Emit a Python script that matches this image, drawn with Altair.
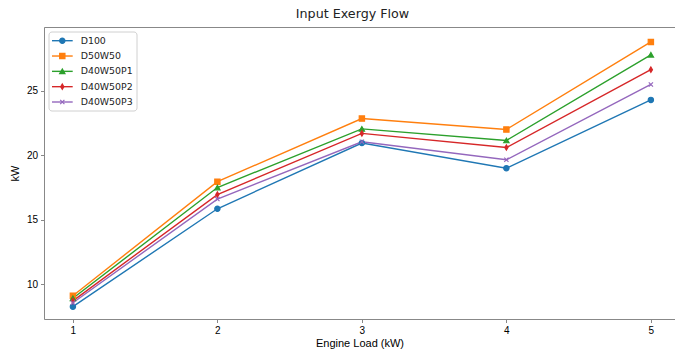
import altair as alt
import pandas as pd

engine_load = [1, 2, 3, 4, 5]
series_names = ["D100", "D50W50", "D40W50P1", "D40W50P2", "D40W50P3"]
d100 = [8.25, 15.85, 20.95, 19.0, 24.3]
d50w50 = [9.1, 17.95, 22.85, 22.0, 28.8]
d40w50p1 = [8.9, 17.5, 22.05, 21.15, 27.8]
d40w50p2 = [8.7, 16.95, 21.7, 20.6, 26.65]
d40w50p3 = [8.55, 16.6, 21.05, 19.65, 25.5]
y_ticks = [10, 15, 20, 25]

colors = ["#1f77b4", "#ff7f0e", "#2ca02c", "#d62728", "#9467bd"]
thin_diamond = "M0,-1L0.6,0L0,1L-0.6,0Z"
x_marker = "M-0.8,-0.8L0.8,0.8M-0.8,0.8L0.8,-0.8"
point_shapes = ["circle", "square", "triangle-up", thin_diamond, x_marker]

values = [d100, d50w50, d40w50p1, d40w50p2, d40w50p3]
rows = []
for name, vals in zip(series_names, values):
    for xv, yv in zip(engine_load, vals):
        rows.append({"load": xv, "kW": yv, "series": name})
df = pd.DataFrame(rows)
legend_df = pd.DataFrame({"series": series_names})

FONT = "DejaVu Sans"
TXT = "#222222"

color_scale = alt.Scale(domain=series_names, range=colors)
shape_scale = alt.Scale(domain=series_names, range=point_shapes)
x_scale = alt.Scale(domain=[0.8, 5.167], nice=False, zero=False)
y_scale = alt.Scale(domain=[7.29, 29.96], nice=False, zero=False)

base = alt.Chart(df)

lines = base.mark_line(strokeWidth=1.4).encode(
    x=alt.X("load:Q", scale=x_scale,
            axis=alt.Axis(title="Engine Load (kW)", values=engine_load, format="d",
                          grid=False, orient="bottom", tickSize=3.5, labelPadding=3,
                          titlePadding=2, titleFontWeight="normal")),
    y=alt.Y("kW:Q", scale=y_scale,
            axis=alt.Axis(title="kW", values=y_ticks, grid=False, tickSize=3.5,
                          labelPadding=3, titlePadding=6, titleFontWeight="normal")),
    color=alt.Color("series:N", scale=color_scale, legend=None),
    detail="series:N",
)

points = base.mark_point(filled=False, opacity=1, size=28, strokeWidth=1.2).encode(
    x=alt.X("load:Q", scale=x_scale,
            axis=alt.Axis(orient="top", labels=False, ticks=False, title=None,
                          grid=False, domain=True)),
    y=alt.Y("kW:Q", scale=y_scale),
    fill=alt.Fill("series:N", scale=color_scale, legend=None),
    stroke=alt.Stroke("series:N", scale=color_scale, legend=None),
    shape=alt.Shape("series:N", scale=shape_scale, legend=None),
)

main = alt.layer(lines, points).resolve_axis(x="independent")

# legend drawn inside the plot's upper left corner
leg_base = alt.Chart(legend_df)
row_y = alt.Y("series:N", sort=series_names, axis=None,
              scale=alt.Scale(type="point", domain=series_names,
                              range=[13.7, 75], padding=0))

leg_frame = leg_base.transform_filter(alt.datum.series == series_names[0]).mark_rect(
    fill="white", stroke="#cccccc", strokeWidth=1, cornerRadius=3, opacity=0.9
).encode(x=alt.value(5), x2=alt.value(93), y=alt.value(5), y2=alt.value(84))

leg_lines = leg_base.mark_rule(strokeWidth=1.4).encode(
    x=alt.value(8), x2=alt.value(28.7), y=row_y,
    color=alt.Color("series:N", scale=color_scale, legend=None),
)

leg_marks = leg_base.mark_point(filled=False, opacity=1, size=28, strokeWidth=1.2).encode(
    x=alt.value(18.3), y=row_y,
    fill=alt.Fill("series:N", scale=color_scale, legend=None),
    stroke=alt.Stroke("series:N", scale=color_scale, legend=None),
    shape=alt.Shape("series:N", scale=shape_scale, legend=None),
)

leg_text = leg_base.mark_text(align="left", baseline="middle", font=FONT,
                              fontSize=9.4, color=TXT).encode(
    x=alt.value(36.7), y=row_y, text="series:N",
)

legend = alt.layer(leg_frame, leg_lines, leg_marks, leg_text)

chart = alt.layer(main, legend).resolve_scale(y="independent").resolve_axis(
    x="independent", y="independent"
).properties(
    width=631, height=292,
    title=alt.Title("Input Exergy Flow", font=FONT, fontSize=12.7, fontWeight="normal",
                    color=TXT, offset=6, dx=-7, anchor="middle"),
    autosize=alt.AutoSizeParams(type="none"),
    padding={"left": 44, "top": 27, "right": 0, "bottom": 32},
).configure_view(stroke=None).configure_axis(
    labelFont=FONT, titleFont=FONT, labelFontSize=9.4, titleFontSize=11.1,
    labelColor=TXT, titleColor=TXT, titleFontWeight="normal",
    domainColor=TXT, tickColor=TXT, domainWidth=1, tickWidth=1,
).configure(background="white")

chart.save("out.html", embed_options={"renderer": "svg", "actions": False})
